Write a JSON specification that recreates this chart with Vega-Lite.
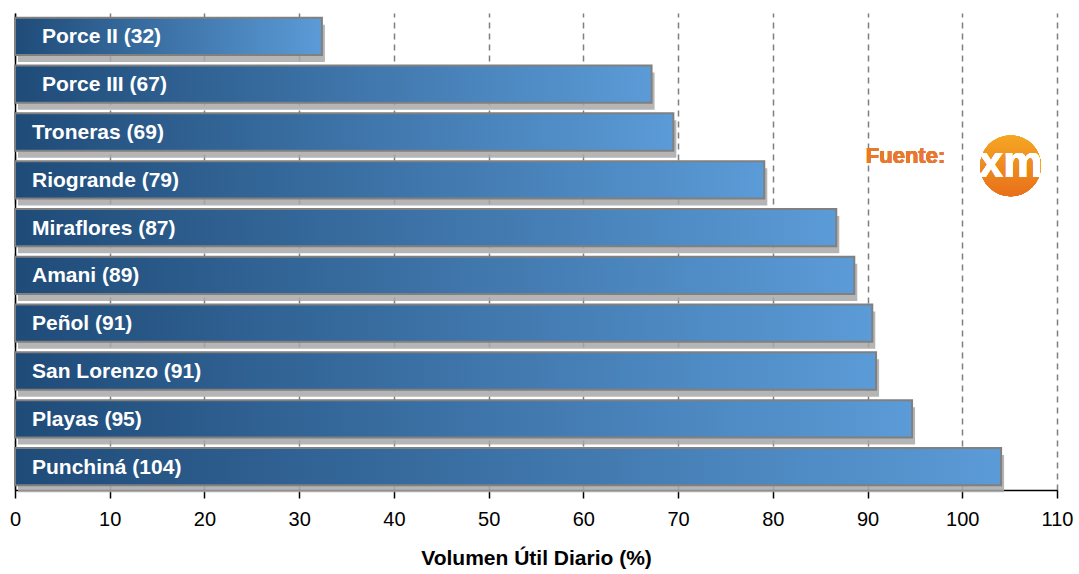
{
  "$schema": "https://vega.github.io/schema/vega-lite/v6.json",
  "width": 1042,
  "height": 477,
  "autosize": {"type": "none"},
  "padding": {"left": 15, "top": 13, "right": 22, "bottom": 84},
  "background": "white",
  "config": {
    "view": {"stroke": null},
    "font": "Liberation Sans"
  },
  "data": {
    "values": [
      {"embalse": "Porce II", "valor": 32.4, "etiqueta": "Porce II (32)"},
      {"embalse": "Porce III", "valor": 67.2, "etiqueta": "Porce III (67)"},
      {"embalse": "Troneras", "valor": 69.5, "etiqueta": "Troneras (69)"},
      {"embalse": "Riogrande", "valor": 79.1, "etiqueta": "Riogrande (79)"},
      {"embalse": "Miraflores", "valor": 86.7, "etiqueta": "Miraflores (87)"},
      {"embalse": "Amani", "valor": 88.6, "etiqueta": "Amani (89)"},
      {"embalse": "Peñol", "valor": 90.5, "etiqueta": "Peñol (91)"},
      {"embalse": "San Lorenzo", "valor": 90.9, "etiqueta": "San Lorenzo (91)"},
      {"embalse": "Playas", "valor": 94.7, "etiqueta": "Playas (95)"},
      {"embalse": "Punchiná", "valor": 104.1, "etiqueta": "Punchiná (104)"}
    ]
  },
  "encoding": {
    "y": {
      "field": "embalse",
      "type": "nominal",
      "sort": null,
      "scale": {"paddingInner": 0.22, "paddingOuter": 0.1},
      "axis": {"labels": false, "ticks": false, "title": null, "domainColor": "#000000", "domainWidth": 1.5, "grid": false}
    }
  },
  "layer": [
    {
      "mark": {"type": "bar", "color": "#a8a8a8", "xOffset": 3, "yOffset": 7, "opacity": 0.85},
      "encoding": {
        "x": {
          "field": "valor",
          "type": "quantitative",
          "scale": {"domain": [0, 110], "nice": false},
          "axis": {
            "values": [0, 10, 20, 30, 40, 50, 60, 70, 80, 90, 100, 110],
            "grid": true,
            "gridDash": [6, 5],
            "gridColor": "#7f7f7f",
            "gridWidth": 1.5,
            "domainColor": "#000000",
            "domainWidth": 1.5,
            "tickColor": "#000000",
            "tickSize": 8,
            "tickWidth": 1.5,
            "labelFont": "Liberation Sans",
            "labelFontSize": 20,
            "labelColor": "#000000",
            "labelPadding": 11,
            "labelFlush": false,
            "labelOverlap": false,
            "title": "Volumen Útil Diario (%)",
            "titleFont": "Liberation Sans",
            "titleFontSize": 21,
            "titleFontWeight": "bold",
            "titleColor": "#000000",
            "titlePadding": 18
          }
        }
      }
    },
    {
      "mark": {
        "type": "bar",
        "stroke": "#808080",
        "strokeWidth": 2,
        "color": {
          "gradient": "linear",
          "x1": 0, "y1": 0, "x2": 1, "y2": 0,
          "stops": [
            {"offset": 0, "color": "#1f4b78"},
            {"offset": 1, "color": "#5b9bd7"}
          ]
        }
      },
      "encoding": {
        "x": {"field": "valor", "type": "quantitative"}
      }
    },
    {
      "transform": [{"filter": "datum.embalse !== 'Porce II' && datum.embalse !== 'Porce III'"}],
      "mark": {"type": "text", "align": "left", "baseline": "middle", "dx": 17, "dy": 1, "color": "white", "fontWeight": "bold", "fontSize": 21, "font": "Liberation Sans"},
      "encoding": {
        "x": {"datum": 0},
        "text": {"field": "etiqueta"}
      }
    },
    {
      "transform": [{"filter": "datum.embalse === 'Porce II' || datum.embalse === 'Porce III'"}],
      "mark": {"type": "text", "align": "left", "baseline": "middle", "dx": 27, "dy": 1, "color": "white", "fontWeight": "bold", "fontSize": 21, "font": "Liberation Sans"},
      "encoding": {
        "x": {"datum": 0},
        "text": {"field": "etiqueta"}
      }
    },
    {
      "mark": {"type": "text", "align": "right", "baseline": "middle", "yOffset": -24, "color": "#e8782b", "fontWeight": "bold", "fontSize": 22, "font": "Liberation Sans"},
      "encoding": {
        "x": {"datum": 98.2},
        "y": {"datum": "Riogrande"},
        "text": {"value": "Fuente:"}
      }
    },
    {
      "mark": {"type": "point", "filled": true, "size": 3700, "opacity": 1, "yOffset": -14, "color": {
          "gradient": "linear",
          "x1": 0, "y1": 0, "x2": 0, "y2": 1,
          "stops": [
            {"offset": 0, "color": "#f5a623"},
            {"offset": 1, "color": "#e8701a"}
          ]
        }},
      "encoding": {
        "x": {"datum": 105.1},
        "y": {"datum": "Riogrande"}
      }
    },
    {
      "mark": {"type": "text", "align": "center", "baseline": "middle", "yOffset": -16, "color": "white", "fontWeight": "bold", "fontSize": 44, "font": "Liberation Sans", "letterSpacing": -3},
      "encoding": {
        "x": {"datum": 105.1},
        "y": {"datum": "Riogrande"},
        "text": {"value": "xm"}
      }
    }
  ]
}
